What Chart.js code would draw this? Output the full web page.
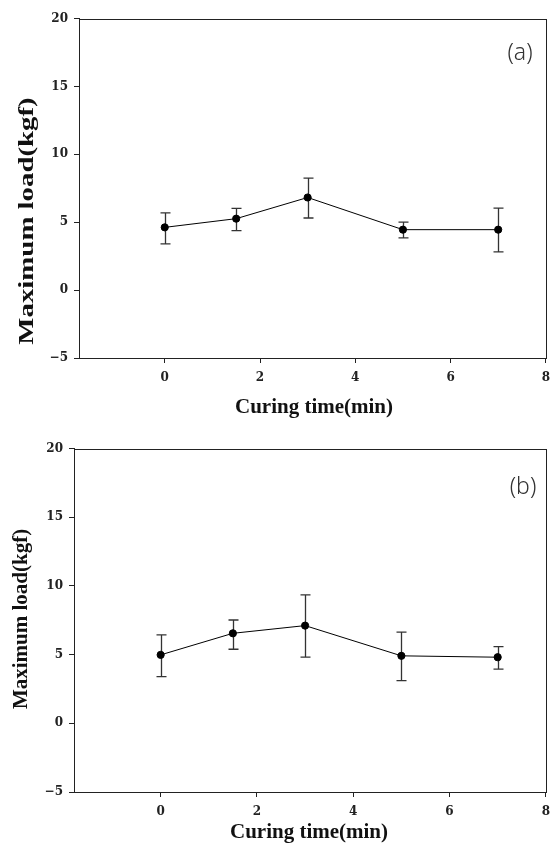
<!DOCTYPE html>
<html>
<head>
<meta charset="utf-8">
<script src="https://cdn.jsdelivr.net/npm/chart.js@4.4.1/dist/chart.umd.min.js"></script>
<style>
  body { margin: 0; background: #fff; }
  canvas { display: block; }
</style>
</head>
<body>
<canvas id="chartA" width="558" height="420"></canvas>
<canvas id="chartB" width="558" height="423"></canvas>
<script>
// data
const curingTime = [0, 1.5, 3, 5, 7];

const loadA = [4.62, 5.26, 6.82, 4.45, 4.45];
const upperA = [5.68, 6.02, 8.25, 5.01, 6.04];
const lowerA = [3.40, 4.38, 5.31, 3.84, 2.81];

const loadB = [4.98, 6.55, 7.11, 4.91, 4.81];
const upperB = [6.43, 7.52, 9.34, 6.63, 5.58];
const lowerB = [3.40, 5.39, 4.81, 3.11, 3.94];

const xTicks = [0, 2, 4, 6, 8];
const yTicks = [-5, 0, 5, 10, 15, 20];
const xTitle = "Curing time(min)";
const yTitle = "Maximum load(kgf)";

const tickFont = { family: "'DejaVu Serif'", size: 12, weight: "bold" };
const ink = "#222";

// error bars, drawn under the points
function makeErrorBars(upper, lower) {
  return {
    id: "errorBars",
    beforeDatasetsDraw(chart) {
      const { ctx, scales: { x, y } } = chart;
      ctx.save();
      ctx.strokeStyle = "#333";
      ctx.lineWidth = 1.3;
      curingTime.forEach((t, i) => {
        const px = Math.round(x.getPixelForValue(t)) + 0.5;
        const top = y.getPixelForValue(upper[i]);
        const bot = y.getPixelForValue(lower[i]);
        ctx.beginPath();
        ctx.moveTo(px, top); ctx.lineTo(px, bot);
        ctx.moveTo(px - 5, top); ctx.lineTo(px + 5, top);
        ctx.moveTo(px - 5, bot); ctx.lineTo(px + 5, bot);
        ctx.stroke();
      });
      ctx.restore();
    },
  };
}

// frame, panel letter and axis titles
function makeDecor(cfg) {
  return {
    id: "decor",
    afterDraw(chart) {
      const { ctx, chartArea: a } = chart;
      ctx.save();
      ctx.strokeStyle = ink;
      ctx.lineWidth = 1;
      const l = Math.round(a.left) + 0.5, t = Math.round(a.top) + 0.5;
      const r = Math.round(a.right) + 0.5, b = Math.round(a.bottom) + 0.5;
      ctx.strokeRect(l, t, r - l, b - t);

      ctx.textAlign = "center";
      ctx.textBaseline = "middle";
      ctx.fillStyle = "#333";
      ctx.font = "300 23px 'Noto Sans'";
      ctx.fillText(cfg.letter, cfg.letterX, cfg.letterY);

      ctx.fillStyle = "#111";
      ctx.font = "bold 21px 'Liberation Serif'";
      ctx.fillText(xTitle, cfg.xTitleX, cfg.xTitleY);

      ctx.translate(cfg.yTitleX, cfg.yTitleY);
      ctx.rotate(-Math.PI / 2);
      ctx.scale(cfg.yStretch, 1);
      ctx.font = `bold ${cfg.yFont}px 'Liberation Serif'`;
      ctx.fillText(yTitle, 0, 0);
      ctx.restore();
    },
  };
}

function drawPanel(id, load, upper, lower, box, decor) {
  const ctx = document.getElementById(id).getContext("2d");
  return new Chart(ctx, {
    type: "line",
    data: {
      datasets: [
        {
          data: curingTime.map((t, i) => ({ x: t, y: load[i] })),
          borderColor: "#000",
          borderWidth: 1,
          pointRadius: 3.6,
          pointBackgroundColor: "#000",
          pointBorderColor: "#000",
          tension: 0,
        },
      ],
    },
    options: {
      responsive: false,
      animation: false,
      events: [],
      layout: { padding: { top: box.top, right: box.right, left: 0, bottom: 0 } },
      plugins: { legend: { display: false }, tooltip: { enabled: false } },
      scales: {
        x: {
          type: "linear",
          min: -1.8,
          max: 8,
          afterBuildTicks: (s) => { s.ticks = xTicks.map((v) => ({ value: v })); },
          afterFit: (s) => { s.height = box.xHeight; },
          grid: { drawOnChartArea: false, tickLength: 5, color: ink },
          border: { color: ink },
          ticks: { font: tickFont, color: ink, padding: 8, maxRotation: 0 },
        },
        y: {
          min: -5,
          max: 20,
          afterBuildTicks: (s) => { s.ticks = yTicks.map((v) => ({ value: v })); },
          afterFit: (s) => { s.width = box.left; },
          grid: { drawOnChartArea: false, tickLength: 5, color: ink },
          border: { color: ink },
          ticks: {
            font: tickFont,
            color: ink,
            padding: 6,
            callback: (v) => (v < 0 ? "\u2212" + Math.abs(v) : String(v)),
          },
        },
      },
    },
    plugins: [makeErrorBars(upper, lower), makeDecor(decor)],
  });
}

drawPanel("chartA", loadA, upperA, lowerA,
  { top: 18.5, right: 9, left: 79, xHeight: 62 },
  { letter: "(a)", letterX: 520, letterY: 53, xTitleX: 314, xTitleY: 408,
    yTitleX: 27, yTitleY: 221, yFont: 22, yStretch: 1.31 });

drawPanel("chartB", loadB, upperB, lowerB,
  { top: 28.5, right: 6.5, left: 74, xHeight: 51 },
  { letter: "(b)", letterX: 523, letterY: 67, xTitleX: 309, xTitleY: 413,
    yTitleX: 22, yTitleY: 199, yFont: 21, yStretch: 1.0 });
</script>
</body>
</html>
